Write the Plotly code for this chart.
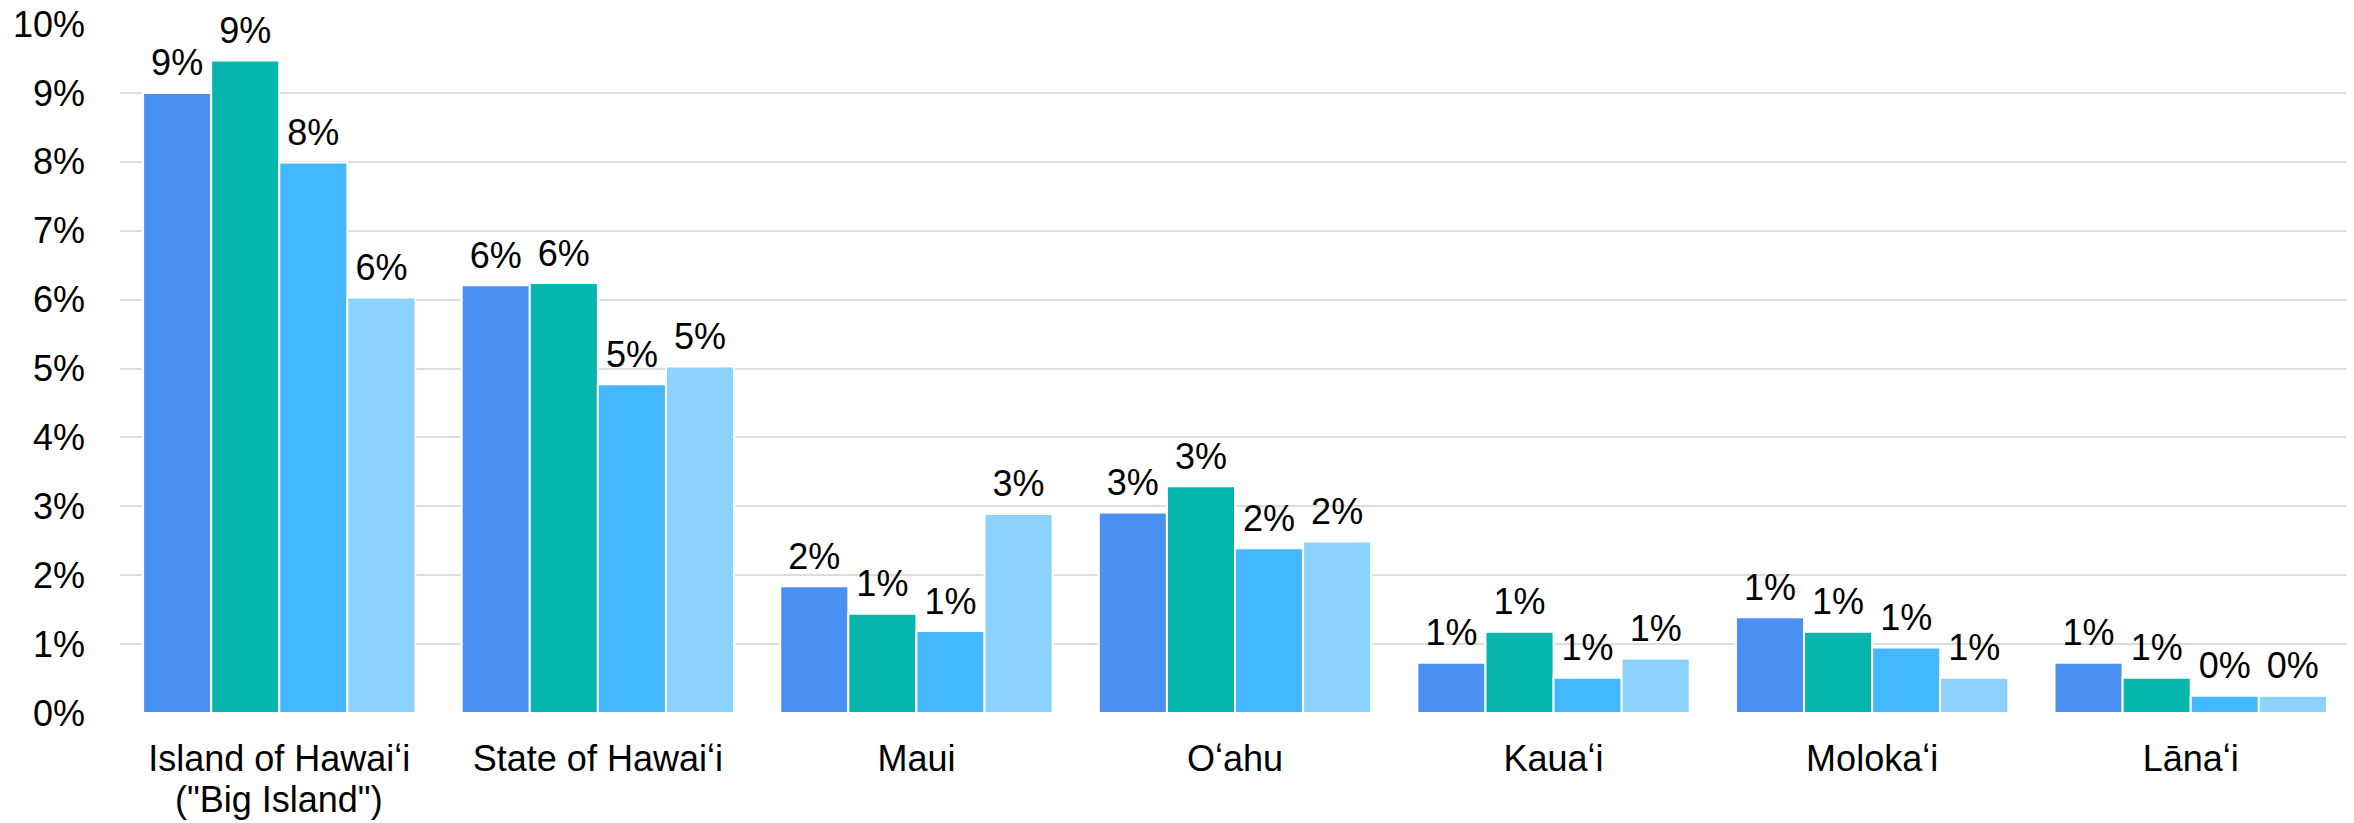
import plotly.graph_objects as go

islands = ["Island of Hawaiʻi", "State of Hawaiʻi", "Maui", "Oʻahu", "Kauaʻi", "Molokaʻi", "Lānaʻi"]

# four series, shares as fractions
series_a = [0.0900, 0.0621, 0.0184, 0.0291, 0.0073, 0.0139, 0.0073]
series_b = [0.0947, 0.0624, 0.0144, 0.0329, 0.0118, 0.0118, 0.0051]
series_c = [0.0799, 0.0477, 0.0119, 0.0239, 0.0051, 0.0095, 0.0025]
series_d = [0.0603, 0.0503, 0.0289, 0.0249, 0.0079, 0.0051, 0.0025]

colors = ["#4A90F3", "#06B6AC", "#44B8FE", "#8CD2FE"]
font = "Liberation Sans, Arial, sans-serif"
GAP = 0.145

fig = go.Figure()
for i, (vals, c) in enumerate(zip([series_a, series_b, series_c, series_d], colors)):
    fig.add_trace(go.Bar(
        x=islands, y=vals, offsetgroup=str(i),
        marker=dict(color=c, line=dict(color="white", width=2)),
        showlegend=False,
    ))
# value labels, grouped the same way as the bars
for i, vals in enumerate([series_a, series_b, series_c, series_d]):
    fig.add_trace(go.Scatter(
        x=islands, y=vals, offsetgroup=str(i),
        mode="markers+text", texttemplate="%{y:.0%}", textposition="top center",
        marker=dict(size=12, opacity=0),
        textfont=dict(size=36, color="black", family=font),
        cliponaxis=False, showlegend=False, hoverinfo="skip",
    ))

# page body has an 8px margin, so margins are trimmed to compensate
fig.update_layout(
    width=2354, height=823,
    barmode="group", bargap=GAP, bargroupgap=0,
    scattermode="group", scattergap=GAP,
    plot_bgcolor="white", paper_bgcolor="white",
    margin=dict(l=112, r=12, t=16, b=118),
    font=dict(family=font, size=36, color="black"),
)
fig.update_yaxes(
    range=[0, 0.1], dtick=0.01, tickformat=".0%",
    showgrid=True, gridcolor="#DCDCDC", gridwidth=2,
    zeroline=False, showline=False, ticks="",
    automargin=False, ticklabelstandoff=34, ticklabeloverflow="allow",
    tickfont=dict(size=36, color="black", family=font),
)
fig.update_xaxes(
    showline=False, ticks="", automargin=False,
    ticklabelstandoff=21, ticklabeloverflow="allow",
    tickfont=dict(size=36, color="black", family=font),
)
fig.add_annotation(
    x=islands[0], y=0, xref="x", yref="paper",
    text='("Big Island")', showarrow=False,
    yanchor="top", yshift=-64,
    font=dict(size=36, color="black", family=font),
)

fig.write_html("out.html")
